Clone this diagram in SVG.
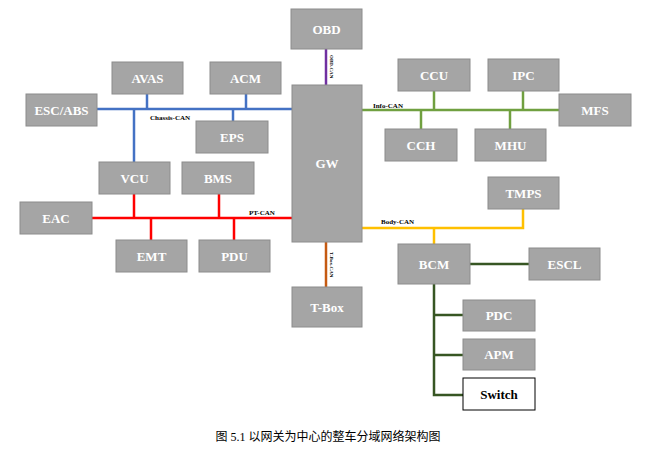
<svg xmlns="http://www.w3.org/2000/svg" width="657" height="450" viewBox="0 0 657 450">
<style>
.n rect{fill:#a5a5a5;stroke:#8c8c8c;stroke-width:1}
.n text{font-family:"Liberation Serif",serif;font-weight:bold;font-size:13px;fill:#fff;text-anchor:middle}
.w rect{fill:#fff;stroke:#000}
.w text{fill:#000}
.l{font-family:"Liberation Serif",serif;font-weight:bold;font-size:7px;fill:#000}
.c line,.c polyline{fill:none;stroke-width:2.5}
.b{stroke:#4472c4}.r{stroke:#ff0000}.g{stroke:#70a040}.y{stroke:#ffc000}.d{stroke:#375623}
</style>
<rect width="657" height="450" fill="#fff"/>
<g class="c" id="connectors">
<line class="b" x1="97" y1="109" x2="292" y2="109"/>
<line class="b" x1="147" y1="94" x2="147" y2="109"/>
<line class="b" x1="246" y1="94" x2="246" y2="109"/>
<line class="b" x1="233" y1="109" x2="233" y2="121"/>
<line class="b" x1="134" y1="109" x2="134" y2="162"/>
<line class="r" x1="92" y1="218" x2="292" y2="218"/>
<line class="r" x1="134" y1="194" x2="134" y2="218"/>
<line class="r" x1="219" y1="194" x2="219" y2="218"/>
<line class="r" x1="151" y1="218" x2="151" y2="240"/>
<line class="r" x1="234" y1="218" x2="234" y2="240"/>
<line x1="326" y1="49" x2="326" y2="85" stroke="#7030a0"/>
<line x1="326" y1="242" x2="326" y2="287" stroke="#c55a11"/>
<line class="g" x1="362" y1="110" x2="559" y2="110"/>
<line class="g" x1="434" y1="91" x2="434" y2="110"/>
<line class="g" x1="523" y1="91" x2="523" y2="110"/>
<line class="g" x1="421" y1="110" x2="421" y2="129"/>
<line class="g" x1="510" y1="110" x2="510" y2="129"/>
<polyline class="y" points="362,228 523,228 523,209"/>
<line class="y" x1="434" y1="228" x2="434" y2="244"/>
<line class="d" x1="470" y1="264" x2="529" y2="264"/>
<polyline class="d" points="434,284 434,395 463,395"/>
<line class="d" x1="434" y1="315" x2="463" y2="315"/>
<line class="d" x1="434" y1="355" x2="463" y2="355"/>
</g>
<text class="l" x="150" y="120">Chassis-CAN</text>
<text class="l" x="249" y="215">PT-CAN</text>
<text class="l" x="373" y="108">Info-CAN</text>
<text class="l" x="381" y="224">Body-CAN</text>
<text class="l" style="font-size:5px" transform="translate(330,55) rotate(90)">OBD-CAN</text>
<text class="l" style="font-size:5px" transform="translate(330,252) rotate(90)">T-Box-CAN</text>
<g class="n" id="OBD"><rect x="291" y="9" width="71" height="40"/><text x="326.5" y="34">OBD</text></g>
<g class="n" id="AVAS"><rect x="112" y="62" width="71" height="32"/><text x="147.5" y="83">AVAS</text></g>
<g class="n" id="ACM"><rect x="210" y="62" width="71" height="32"/><text x="245.5" y="83">ACM</text></g>
<g class="n" id="ESCABS"><rect x="26" y="94" width="71" height="32"/><text x="61.5" y="115">ESC/ABS</text></g>
<g class="n" id="EPS"><rect x="196" y="121" width="72" height="32"/><text x="232" y="142">EPS</text></g>
<g class="n" id="GW"><rect x="292" y="85" width="70" height="157"/><text x="327" y="168">GW</text></g>
<g class="n" id="VCU"><rect x="99" y="162" width="71" height="32"/><text x="134.5" y="183">VCU</text></g>
<g class="n" id="BMS"><rect x="182" y="162" width="72" height="32"/><text x="218" y="183">BMS</text></g>
<g class="n" id="EAC"><rect x="20" y="202" width="72" height="32"/><text x="56" y="223">EAC</text></g>
<g class="n" id="EMT"><rect x="116" y="240" width="71" height="32"/><text x="151.5" y="261">EMT</text></g>
<g class="n" id="PDU"><rect x="199" y="240" width="71" height="32"/><text x="234.5" y="261">PDU</text></g>
<g class="n" id="TBox"><rect x="292" y="287" width="70" height="40"/><text x="327" y="312">T-Box</text></g>
<g class="n" id="CCU"><rect x="398" y="59" width="72" height="32"/><text x="434" y="80">CCU</text></g>
<g class="n" id="IPC"><rect x="488" y="59" width="71" height="32"/><text x="523.5" y="80">IPC</text></g>
<g class="n" id="MFS"><rect x="559" y="94" width="72" height="32"/><text x="595" y="115">MFS</text></g>
<g class="n" id="CCH"><rect x="385" y="129" width="72" height="32"/><text x="421" y="150">CCH</text></g>
<g class="n" id="MHU"><rect x="475" y="129" width="71" height="32"/><text x="510.5" y="150">MHU</text></g>
<g class="n" id="TMPS"><rect x="488" y="177" width="71" height="32"/><text x="523.5" y="198">TMPS</text></g>
<g class="n" id="BCM"><rect x="398" y="244" width="72" height="40"/><text x="434" y="269">BCM</text></g>
<g class="n" id="ESCL"><rect x="529" y="248" width="71" height="32"/><text x="564.5" y="269">ESCL</text></g>
<g class="n" id="PDC"><rect x="463" y="300" width="72" height="31"/><text x="499" y="320">PDC</text></g>
<g class="n" id="APM"><rect x="463" y="339" width="72" height="31"/><text x="499" y="359">APM</text></g>
<g class="n w" id="Switch"><rect x="463" y="378" width="72" height="32"/><text x="499" y="399">Switch</text></g>
<text x="328" y="441" font-family="'Liberation Serif','Noto Sans CJK SC',serif" font-size="12" text-anchor="middle">图 5.1  以网关为中心的整车分域网络架构图</text>
</svg>
